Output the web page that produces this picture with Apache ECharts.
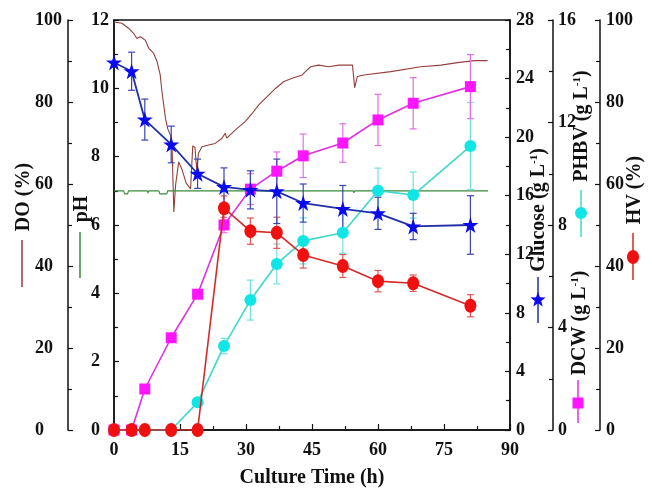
<!DOCTYPE html>
<html>
<head>
<meta charset="utf-8">
<script src="https://cdn.jsdelivr.net/npm/echarts@6/dist/echarts.min.js"></script>
<style>
  html, body { margin: 0; padding: 0; background: #ffffff; }
  #chart { width: 652px; height: 498px; }
</style>
</head>
<body>
<div id="chart"></div>
<script>
// Sampling times of the offline measurements (h)
const sampleTime = [0, 4, 7, 13, 19, 25, 31, 37, 43, 52, 60, 68, 81];

// Residual glucose (g L-1) and standard deviation
const glucose    = [25.1, 24.5, 21.2, 19.5, 17.5, 16.6, 16.4, 16.3, 15.5, 15.1, 14.8, 13.9, 14.0];
const glucoseErr = [0, 1.3, 1.4, 1.25, 1.0, 1.3, 1.3, 2.2, 1.3, 1.6, 1.1, 0.9, 2.0];

// Dry cell weight (g L-1)
const dcw    = [0, 0, 1.6, 3.6, 5.3, 8.0, 9.4, 10.1, 10.7, 11.2, 12.1, 12.75, 13.4];
const dcwErr = [0, 0, 0.1, 0.15, 0.15, 0.3, 0.6, 0.75, 0.85, 0.75, 1.0, 1.0, 1.25];

// PHBV titre (g L-1)
const phbv    = [0, 0, 0, 0, 1.08, 3.28, 5.07, 6.48, 7.38, 7.7, 9.34, 9.17, 11.08];
const phbvErr = [0, 0, 0, 0, 0.1, 0.3, 0.78, 0.78, 0.9, 0.8, 0.88, 0.9, 1.7];

// HV fraction in the copolymer (%)
const hv    = [0, 0, 0, 0, 0, 54.1, 48.5, 48.1, 42.7, 40.0, 36.3, 35.8, 30.3];
const hvErr = [0, 0, 0, 0, 0, 3.0, 3.2, 3.8, 3.2, 2.8, 2.6, 2.0, 2.7];

// Online dissolved oxygen trace (%)
const doTime  = [0, 1.8, 3.3, 4.5, 5.2, 6.0, 7.1, 7.9, 8.3, 9.0, 9.8, 10.5, 10.9, 11.3, 11.7, 12.2, 12.8, 13.2, 13.6, 14.0, 14.7, 15.5, 16.4, 17.4, 17.8, 17.9, 18.4, 18.8, 19.2, 20.0, 21.5, 23.0, 24.5, 25.3, 25.6, 27.6, 29.8, 31.4, 32.9, 34.8, 36.7, 38.6, 40.5, 42.8, 43.5, 44.7, 46.5, 48.8, 51.1, 54.2, 54.5, 54.7, 55.3, 56.8, 62.9, 69.7, 74.3, 78.1, 81.9, 84.9];
const doValue = [99.5, 99.2, 98.0, 96.7, 95.5, 95.9, 95.1, 93.1, 93.5, 91.9, 89.8, 86.6, 82.5, 79.3, 76.0, 73.5, 72.0, 68.7, 53.2, 59.8, 65.4, 63.4, 60.2, 58.8, 58.8, 69.3, 68.9, 63.5, 67.5, 69.1, 69.5, 69.9, 71.1, 72.4, 71.2, 73.2, 75.2, 77.2, 79.3, 81.3, 83.3, 85.0, 85.8, 86.6, 87.4, 88.6, 89.0, 88.6, 89.0, 89.0, 89.2, 83.5, 86.2, 86.6, 87.4, 88.6, 89.0, 89.6, 90.1, 90.1];

// Online pH trace
const phTime  = [0, 2.2, 2.4, 3.1, 3.3, 7.6, 7.75, 7.9, 10.2, 10.4, 12.0, 12.2, 54.3, 54.5, 54.7, 85];
const phValue = [7.0, 7.0, 6.91, 6.91, 7.0, 7.0, 6.93, 7.0, 7.0, 6.91, 6.91, 7.0, 7.0, 6.94, 7.0, 7.0];

const FONT = '"Liberation Serif", "Times New Roman", serif';
const pairs = (xs, ys) => xs.map((x, i) => [x, ys[i]]);

function errorBars(t, v, e, yIdx, color, z) {
  return {
    type: 'custom',
    yAxisIndex: yIdx,
    z: z,
    silent: true,
    data: t.map((x, i) => [x, v[i], e[i]]),
    encode: { x: 0, y: 1 },
    renderItem: function (params, api) {
      const x = api.value(0), y = api.value(1), err = api.value(2);
      if (!err) return null;
      const hi = api.coord([x, y + err]);
      const lo = api.coord([x, y - err]);
      const cap = 3.5;
      const st = { stroke: color, lineWidth: 1.2 };
      return {
        type: 'group',
        children: [
          { type: 'line', shape: { x1: hi[0], y1: hi[1], x2: lo[0], y2: lo[1] }, style: st },
          { type: 'line', shape: { x1: hi[0] - cap, y1: hi[1], x2: hi[0] + cap, y2: hi[1] }, style: st },
          { type: 'line', shape: { x1: lo[0] - cap, y1: lo[1], x2: lo[0] + cap, y2: lo[1] }, style: st }
        ]
      };
    }
  };
}

const STAR = 'path://M50 2 L61 36 L97 36 L68 57 L79 92 L50 71 L21 92 L32 57 L3 36 L39 36 Z';

function starPoints(cx, cy, r) {
  const pts = [];
  for (let k = 0; k < 10; k++) {
    const rr = k % 2 === 0 ? r : r * 0.42;
    const a = -Math.PI / 2 + k * Math.PI / 5;
    pts.push([cx + rr * Math.cos(a), cy + rr * Math.sin(a)]);
  }
  return pts;
}

const labelStyle = { fontFamily: FONT, fontWeight: 'bold', fontSize: 18, color: '#111' };
const tickStyle = { lineStyle: { color: '#111', width: 1.2 } };
const lineAxis = { show: true, onZero: false, lineStyle: { color: '#111', width: 1.5 } };

function yAx(opts) {
  return Object.assign({
    type: 'value',
    splitLine: { show: false },
    axisLine: lineAxis,
    axisTick: Object.assign({ show: true, inside: true, length: 5 }, tickStyle),
    minorTick: Object.assign({ show: true, splitNumber: 2, length: 4 }, tickStyle),
    minorSplitLine: { show: false }
  }, opts);
}

function nameText(x, y, rich) {
  return {
    type: 'text', x: x, y: y, rotation: Math.PI / 2, silent: true,
    style: {
      text: rich,
      align: 'center', verticalAlign: 'middle',
      fill: '#111',
      rich: {
        a: { fontFamily: FONT, fontWeight: 'bold', fontSize: 20, fill: '#111' },
        s: { fontFamily: FONT, fontWeight: 'bold', fontSize: 11, fill: '#111', verticalAlign: 'top' }
      }
    }
  };
}

function keyLine(x, y1, y2, color) {
  return { type: 'line', silent: true, shape: { x1: x, y1: y1, x2: x, y2: y2 }, style: { stroke: color, lineWidth: 1.5 } };
}

const chart = echarts.init(document.getElementById('chart'), null, { renderer: 'canvas' });

chart.setOption({
  animation: false,
  backgroundColor: '#ffffff',
  grid: {
    left: 114, right: 142, top: 20, bottom: 68,
    containLabel: false, outerBoundsMode: 'none',
    show: true, borderColor: '#111', borderWidth: 1.5, backgroundColor: 'transparent'
  },
  xAxis: {
    type: 'value', min: 0, max: 90, interval: 15,
    name: 'Culture Time (h)', nameLocation: 'middle', nameGap: 38,
    nameTextStyle: { fontFamily: FONT, fontWeight: 'bold', fontSize: 20, color: '#111' },
    axisLine: lineAxis,
    axisTick: Object.assign({ show: true, inside: true, length: 6 }, tickStyle),
    minorTick: Object.assign({ show: true, splitNumber: 2, length: 4 }, tickStyle),
    splitLine: { show: false },
    axisLabel: Object.assign({ margin: 11, showMinLabel: true, showMaxLabel: true }, labelStyle)
  },
  yAxis: [
    // pH
    yAx({ position: 'left', offset: 0, min: 0, max: 12, interval: 2,
      axisLabel: Object.assign({ margin: 23, align: 'left', showMinLabel: true, showMaxLabel: true }, labelStyle) }),
    // DO
    yAx({ position: 'left', offset: 46, min: 0, max: 100, interval: 20,
      axisLabel: Object.assign({ margin: 33, align: 'left', showMinLabel: true, showMaxLabel: true }, labelStyle) }),
    // Glucose
    yAx({ position: 'right', offset: 0, min: 0, max: 28, interval: 4,
      axisLabel: Object.assign({ margin: 6, align: 'left', showMinLabel: true, showMaxLabel: true }, labelStyle) }),
    // PHBV and DCW
    yAx({ position: 'right', offset: 43, min: 0, max: 16, interval: 4,
      axisLabel: Object.assign({ margin: 5, align: 'left', showMinLabel: true, showMaxLabel: true }, labelStyle) }),
    // HV
    yAx({ position: 'right', offset: 90, min: 0, max: 100, interval: 20,
      axisLabel: Object.assign({ margin: 6, align: 'left', showMinLabel: true, showMaxLabel: true }, labelStyle) })
  ],
  series: [
    { name: 'DO', type: 'line', yAxisIndex: 1, z: 1, silent: true, symbol: 'none',
      data: pairs(doTime, doValue), lineStyle: { color: '#94403a', width: 1.1 } },
    { name: 'pH', type: 'line', yAxisIndex: 0, z: 1, silent: true, symbol: 'none',
      data: pairs(phTime, phValue), lineStyle: { color: '#3a8a3a', width: 1.1 } },

    errorBars(sampleTime, phbv, phbvErr, 3, '#6fe3e0', 2),
    errorBars(sampleTime, dcw, dcwErr, 3, '#e46fe4', 2),
    errorBars(sampleTime, hv, hvErr, 4, '#e25555', 2),
    errorBars(sampleTime, glucose, glucoseErr, 2, '#3a44b4', 2),

    { name: 'PHBV', type: 'line', yAxisIndex: 3, z: 3, silent: true,
      symbol: 'circle', symbolSize: 12, showAllSymbol: true,
      data: pairs(sampleTime, phbv),
      lineStyle: { color: '#3fd8cc', width: 1.6 }, itemStyle: { color: '#10e6e6' } },
    { name: 'DCW', type: 'line', yAxisIndex: 3, z: 4, silent: true,
      symbol: 'rect', symbolSize: 11, showAllSymbol: true,
      data: pairs(sampleTime, dcw),
      lineStyle: { color: '#e030e0', width: 1.6 }, itemStyle: { color: '#ff14ff' } },
    { name: 'HV', type: 'line', yAxisIndex: 4, z: 5, silent: true,
      symbol: 'circle', symbolSize: [12, 14], showAllSymbol: true,
      data: pairs(sampleTime, hv),
      lineStyle: { color: '#d42a2a', width: 1.6 }, itemStyle: { color: '#f01010' } },
    { name: 'Glucose', type: 'line', yAxisIndex: 2, z: 6, silent: true,
      symbol: STAR, symbolSize: 16, showAllSymbol: true,
      data: pairs(sampleTime, glucose),
      lineStyle: { color: '#1f2fa6', width: 1.8 }, itemStyle: { color: '#0a0af0' } }
  ],
  graphic: [
    // DO key
    nameText(24, 197, '{a|DO (%)}'),
    keyLine(22, 240, 287, '#94403a'),
    // pH key
    nameText(82, 209, '{a|pH}'),
    keyLine(80, 232, 278, '#3a8a3a'),
    // Glucose key
    nameText(539, 210, '{a|Glucose (g L}{s|-1}{a|)}'),
    keyLine(538, 277, 323, '#1f2fa6'),
    { type: 'polygon', silent: true, shape: { points: starPoints(538, 300, 8) }, style: { fill: '#0a0af0' } },
    // PHBV key
    nameText(582, 126, '{a|PHBV (g L}{s|-1}{a|)}'),
    keyLine(581, 190, 237, '#3fd8cc'),
    { type: 'circle', silent: true, shape: { cx: 581, cy: 213, r: 6 }, style: { fill: '#10e6e6' } },
    // DCW key
    nameText(580, 323, '{a|DCW (g L}{s|-1}{a|)}'),
    keyLine(578, 380, 423, '#e030e0'),
    { type: 'rect', silent: true, shape: { x: 572.5, y: 397.5, width: 11, height: 11 }, style: { fill: '#ff14ff' } },
    // HV key
    nameText(635, 190, '{a|HV (%)}'),
    keyLine(633, 233, 280, '#d42a2a'),
    { type: 'ellipse', silent: true, shape: { cx: 633, cy: 257, rx: 6, ry: 7 }, style: { fill: '#f01010' } }
  ]
});
</script>
</body>
</html>
